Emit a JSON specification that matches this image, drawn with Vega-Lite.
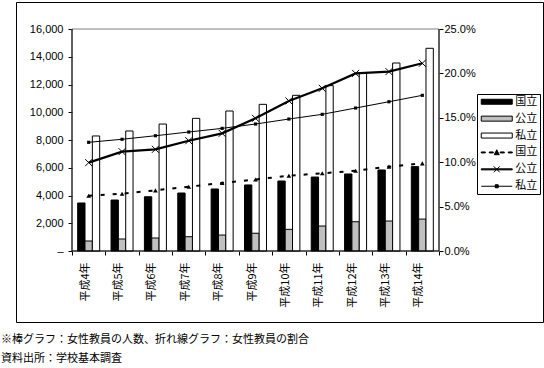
{
  "$schema": "https://vega.github.io/schema/vega-lite/v6.json",
  "width": 527,
  "height": 320,
  "autosize": {"type": "none"},
  "padding": {"left": 16, "top": 2, "right": 1, "bottom": 46},
  "background": "white",
  "config": {
    "view": {"stroke": "black", "strokeWidth": 1},
    "font": "Noto Sans CJK JP",
    "axis": {"grid": false, "labelColor": "black", "tickColor": "black", "domainColor": "black"}
  },
  "title": {
    "text": ["※棒グラフ：女性教員の人数、折れ線グラフ：女性教員の割合", "資料出所：学校基本調査"],
    "orient": "bottom",
    "anchor": "start",
    "frame": "group",
    "offset": 12,
    "dx": -15,
    "fontSize": 11,
    "fontWeight": "normal",
    "font": "Noto Sans CJK JP",
    "lineHeight": 19,
    "color": "black",
    "baseline": "top"
  },
  "data": {
    "values": [
      {"year": "平成4年", "type": "国立", "count": 3460, "pct": 6.23},
      {"year": "平成5年", "type": "国立", "count": 3675, "pct": 6.45},
      {"year": "平成6年", "type": "国立", "count": 3910, "pct": 6.83},
      {"year": "平成7年", "type": "国立", "count": 4180, "pct": 7.24},
      {"year": "平成8年", "type": "国立", "count": 4470, "pct": 7.66},
      {"year": "平成9年", "type": "国立", "count": 4760, "pct": 8.05},
      {"year": "平成10年", "type": "国立", "count": 5045, "pct": 8.48},
      {"year": "平成11年", "type": "国立", "count": 5330, "pct": 8.75},
      {"year": "平成12年", "type": "国立", "count": 5550, "pct": 9.04},
      {"year": "平成13年", "type": "国立", "count": 5840, "pct": 9.5},
      {"year": "平成14年", "type": "国立", "count": 6080, "pct": 9.87},
      {"year": "平成4年", "type": "公立", "count": 720, "pct": 9.95},
      {"year": "平成5年", "type": "公立", "count": 865, "pct": 11.19},
      {"year": "平成6年", "type": "公立", "count": 937, "pct": 11.45},
      {"year": "平成7年", "type": "公立", "count": 1030, "pct": 12.42},
      {"year": "平成8年", "type": "公立", "count": 1150, "pct": 13.25},
      {"year": "平成9年", "type": "公立", "count": 1280, "pct": 14.94},
      {"year": "平成10年", "type": "公立", "count": 1560, "pct": 16.9},
      {"year": "平成11年", "type": "公立", "count": 1800, "pct": 18.32},
      {"year": "平成12年", "type": "公立", "count": 2110, "pct": 20.0},
      {"year": "平成13年", "type": "公立", "count": 2160, "pct": 20.2},
      {"year": "平成14年", "type": "公立", "count": 2300, "pct": 21.14},
      {"year": "平成4年", "type": "私立", "count": 8290, "pct": 12.24},
      {"year": "平成5年", "type": "私立", "count": 8650, "pct": 12.58},
      {"year": "平成6年", "type": "私立", "count": 9150, "pct": 12.98},
      {"year": "平成7年", "type": "私立", "count": 9560, "pct": 13.4},
      {"year": "平成8年", "type": "私立", "count": 10090, "pct": 13.81},
      {"year": "平成9年", "type": "私立", "count": 10570, "pct": 14.3},
      {"year": "平成10年", "type": "私立", "count": 11220, "pct": 14.86},
      {"year": "平成11年", "type": "私立", "count": 11920, "pct": 15.39},
      {"year": "平成12年", "type": "私立", "count": 12800, "pct": 16.1},
      {"year": "平成13年", "type": "私立", "count": 13550, "pct": 16.81},
      {"year": "平成14年", "type": "私立", "count": 14610, "pct": 17.53}
    ]
  },
  "resolve": {"scale": {"x": "independent", "y": "independent"}},
  "layer": [
    {
      "data": {"values": [{}]},
      "mark": {"type": "rect", "fill": "transparent", "stroke": "#808080", "strokeWidth": 1},
      "encoding": {
        "x": {"datum": 0, "type": "quantitative", "scale": {"type": "linear", "domain": [0, 11], "range": [56, 423], "nice": false, "zero": false},
          "axis": {"orient": "bottom", "offset": -71, "values": [0, 1, 2, 3, 4, 5, 6, 7, 8, 9, 10, 11], "labels": false, "domain": false, "ticks": true, "tickSize": 4, "title": null, "grid": false}},
        "x2": {"datum": 11},
        "y": {"datum": 0, "type": "quantitative", "scale": {"type": "linear", "domain": [0, 16000], "range": [249, 27], "nice": false, "zero": false}, "axis": null},
        "y2": {"datum": 16000}
      }
    },
    {
      "mark": {"type": "bar", "stroke": "black", "strokeWidth": 1},
      "encoding": {
        "x": {"field": "year", "type": "nominal",
          "scale": {"type": "band", "domain": ["平成4年", "平成5年", "平成6年", "平成7年", "平成8年", "平成9年", "平成10年", "平成11年", "平成12年", "平成13年", "平成14年"], "range": [56, 423], "paddingInner": 0.3406, "paddingOuter": 0.1703, "align": 0.5, "round": false},
          "axis": {"orient": "bottom", "offset": -71, "labelAngle": -90, "ticks": false, "tickSize": 0, "domain": false, "labelPadding": 11, "labelFontSize": 11, "labelFont": "Noto Sans CJK JP", "title": null, "labelOffset": -3}},
        "xOffset": {"field": "type", "type": "nominal", "scale": {"domain": ["国立", "公立", "私立"], "paddingInner": 0, "paddingOuter": 0}},
        "y": {"field": "count", "type": "quantitative", "stack": null,
          "scale": {"type": "linear", "domain": [0, 16000], "range": [249, 27], "nice": false, "zero": false},
          "axis": {"orient": "left", "offset": -56, "values": [0, 2000, 4000, 6000, 8000, 10000, 12000, 14000, 16000], "domain": false, "tickSize": 4, "labelPadding": 5, "labelExpr": "datum.value === 0 ? '–\u00a0' : format(datum.value, ',')", "labelFont": "Liberation Sans", "labelFontSize": 11, "title": null}},
        "y2": {"datum": 0},
        "fill": {"field": "type", "type": "nominal",
          "scale": {"domain": ["国立", "公立", "私立", "線国立", "線公立", "線私立"], "range": ["#000000", "#c0c0c0", "#ffffff", "#000000", "#000000", "#000000"]},
          "legend": {
            "orient": "none", "legendX": 461, "legendY": 92,
            "title": null,
            "padding": 2.25,
            "strokeColor": "black",
            "fillColor": "white",
            "rowPadding": 4.9,
            "labelFont": "Noto Sans CJK JP", "labelFontSize": 11, "labelColor": "black",
            "labelExpr": "replace(datum.label, '線', '')",
            "symbolSize": 36,
            "symbolStrokeWidth": 1,
            "symbolStrokeColor": "black",
            "labelOffset": 25,
            "encode": {
              "symbols": {
                "update": {
                  "shape": {"signal": "datum.value === '線国立' ? 'M-1.1667,-0.1667H0.1667V0.1667H-1.1667ZM1.5,-0.1667H2.8333V0.1667H1.5ZM5.1667,-0.1667H6.5V0.1667H5.1667ZM7.8333,-0.1667H9.1667V0.1667H7.8333ZM3.1667,0.75L4,-0.9L4.8333,0.75Z' : datum.value === '線公立' ? 'M-1.1667,-0.1667H9.1667V0.1667H-1.1667ZM3,-1L5,1M3,1L5,-1' : datum.value === '線私立' ? 'M-1.1667,0H9.1667M3.5,-0.5H4.5V0.5H3.5Z' : 'M-1.1667,-0.8333H9.1667V0.8333H-1.1667Z'"},
                  "stroke": {"value": "black"},
                  "strokeWidth": {"value": 1}
                }
              }
            }
          }
        }
      }
    },
    {
      "encoding": {
        "x": {"field": "year", "type": "nominal",
          "scale": {"type": "band", "domain": ["平成4年", "平成5年", "平成6年", "平成7年", "平成8年", "平成9年", "平成10年", "平成11年", "平成12年", "平成13年", "平成14年"], "range": [56, 423], "paddingInner": 0.3406, "paddingOuter": 0.1703, "align": 0.5, "round": false},
          "axis": null},
        "y": {"field": "pct", "type": "quantitative",
          "scale": {"type": "linear", "domain": [0, 25], "range": [249, 27], "nice": false, "zero": false},
          "axis": {"orient": "right", "offset": -104, "values": [0, 5, 10, 15, 20, 25], "domain": false, "tickSize": 4, "labelPadding": 1, "labelExpr": "format(datum.value, '.1f') + '%'", "labelFont": "Liberation Sans", "labelFontSize": 11, "title": null}}
      },
      "layer": [
        {"transform": [{"filter": {"field": "type", "equal": "国立"}}], "mark": {"type": "line", "stroke": "black", "strokeWidth": 2, "strokeDash": [4, 8]}},
        {"transform": [{"filter": {"field": "type", "equal": "国立"}}], "mark": {"type": "point", "shape": "triangle-up", "filled": true, "fill": "black", "size": 22, "opacity": 1}},
        {"transform": [{"filter": {"field": "type", "equal": "公立"}}], "mark": {"type": "line", "stroke": "black", "strokeWidth": 2.2}},
        {"transform": [{"filter": {"field": "type", "equal": "公立"}}], "mark": {"type": "point", "shape": "M-1,-1L1,1M-1,1L1,-1", "filled": false, "stroke": "black", "strokeWidth": 1, "size": 49, "opacity": 1}},
        {"transform": [{"filter": {"field": "type", "equal": "私立"}}], "mark": {"type": "line", "stroke": "black", "strokeWidth": 1}},
        {"transform": [{"filter": {"field": "type", "equal": "私立"}}], "mark": {"type": "point", "shape": "square", "filled": true, "fill": "black", "size": 10, "opacity": 1}}
      ]
    },
    {
      "data": {"values": [{}]},
      "encoding": {
        "x": {"datum": 0, "type": "quantitative", "scale": {"type": "linear", "domain": [0, 11], "range": [56, 423], "nice": false, "zero": false}, "axis": null},
        "y": {"datum": 0, "type": "quantitative", "scale": {"type": "linear", "domain": [0, 16000], "range": [249, 27], "nice": false, "zero": false}, "axis": null}
      },
      "layer": [
        {"mark": {"type": "rule", "stroke": "black", "strokeWidth": 1}, "encoding": {"y2": {"datum": 16000}}},
        {"mark": {"type": "rule", "stroke": "black", "strokeWidth": 1}, "encoding": {"x": {"datum": 11, "type": "quantitative"}, "y2": {"datum": 16000}}},
        {"mark": {"type": "rule", "stroke": "black", "strokeWidth": 1}, "encoding": {"x2": {"datum": 11}}}
      ]
    }
  ]
}
